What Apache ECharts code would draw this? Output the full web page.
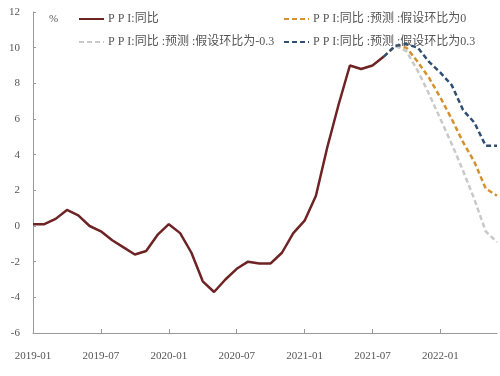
<!DOCTYPE html>
<html>
<head>
<meta charset="utf-8">
<script src="https://cdn.jsdelivr.net/npm/echarts@6/dist/echarts.min.js"></script>
<style>
  html, body { margin: 0; padding: 0; background: #fff; }
  #chart { width: 500px; height: 376px; }
</style>
</head>
<body>
<div id="chart"></div>
<script>
// 月份 2019-01 ~ 2022-06
var months = [];
for (var y = 2019; y <= 2022; y++) {
    for (var m = 1; m <= 12; m++) {
        if (y === 2022 && m > 6) break;
        months.push(y + '-' + (m < 10 ? '0' + m : m));
    }
}

// PPI 同比实际值 2019-01 ~ 2021-08
var ppiActual = [0.1, 0.1, 0.4, 0.9, 0.6, 0.0, -0.3, -0.8, -1.2, -1.6, -1.4, -0.5,
    0.1, -0.4, -1.5, -3.1, -3.7, -3.0, -2.4, -2.0, -2.1, -2.1, -1.5, -0.4,
    0.3, 1.7, 4.4, 6.8, 9.0, 8.8, 9.0, 9.5];

// 预测 2021-08 ~ 2022-06
var fcZero = [9.5, 10.1, 10.0, 9.2, 8.3, 7.2, 6.0, 4.7, 3.6, 2.1, 1.7];
var fcMinus = [9.5, 10.1, 9.8, 8.7, 7.4, 6.0, 4.6, 3.1, 1.5, -0.3, -0.9];
var fcPlus = [9.5, 10.1, 10.2, 10.0, 9.2, 8.6, 7.9, 6.5, 5.8, 4.5, 4.5];

var names = ['P P I:同比', 'P P I:同比 :预测 :假设环比为0', 'P P I:同比 :预测 :假设环比为-0.3', 'P P I:同比 :预测 :假设环比为0.3'];

function pad(arr) {
    var out = [];
    var start = months.length - arr.length;
    for (var i = 0; i < months.length; i++) {
        out.push(i < start ? null : arr[i - start]);
    }
    return out;
}

var actualData = ppiActual.concat([]);
while (actualData.length < months.length) actualData.push(null);

var serif = '"Liberation Serif", "DejaVu Serif", "Noto Sans CJK SC", serif';

var myChart = echarts.init(document.getElementById('chart'));

function lineSeries(name, data, color, dashed) {
    return {
        name: name,
        type: 'line',
        data: data,
        symbol: 'none',
        connectNulls: false,
        lineStyle: { color: color, width: 2.5, type: dashed ? [5, 3] : 'solid' },
        itemStyle: { color: color },
        z: dashed ? 2 : 3
    };
}

var legendBase = {
    top: 13, orient: 'vertical', padding: 0, itemWidth: 25, itemHeight: 10, itemGap: 11,
    itemStyle: { opacity: 0 },
    textStyle: { fontFamily: serif, fontSize: 12, color: '#555', padding: [0, 0, 0, -1] }
};

var option = {
    animation: false,
    grid: { left: 33, right: 3, top: 12, bottom: 43, containLabel: false },
    legend: [
        echarts.util.merge({ left: 78, data: [names[0], names[2]] }, legendBase),
        echarts.util.merge({ left: 283, data: [names[1], names[3]] }, legendBase)
    ],
    xAxis: [
        {
            type: 'category',
            data: months,
            boundaryGap: false,
            axisLine: { show: false },
            axisTick: { show: false },
            axisLabel: { interval: 5, margin: 18, fontFamily: serif, fontSize: 11, color: '#555' }
        },
        {
            type: 'category',
            data: months,
            boundaryGap: false,
            position: 'bottom',
            axisLine: { show: true, onZero: true, lineStyle: { color: '#999', width: 1 } },
            axisTick: { show: true, inside: true, interval: 5, length: 4, lineStyle: { color: '#999' } },
            axisLabel: { show: false }
        }
    ],
    yAxis: {
        type: 'value',
        min: -6,
        max: 12,
        interval: 2,
        name: '%',
        nameLocation: 'end',
        nameGap: -13,
        nameTextStyle: { fontFamily: serif, fontSize: 11, color: '#555', align: 'left', padding: [0, 0, 0, 16] },
        axisLine: { show: true, lineStyle: { color: '#999' } },
        axisTick: { show: true, inside: true, length: 3, lineStyle: { color: '#999' } },
        axisLabel: { margin: 13, fontFamily: serif, fontSize: 11, color: '#555' },
        splitLine: { show: false }
    },
    series: [
        lineSeries(names[0], actualData, '#6e2324', false),
        lineSeries(names[1], pad(fcZero), '#d4912f', true),
        lineSeries(names[2], pad(fcMinus), '#c9c9c9', true),
        lineSeries(names[3], pad(fcPlus), '#2e4e72', true)
    ]
};

myChart.setOption(option);
</script>
</body>
</html>
